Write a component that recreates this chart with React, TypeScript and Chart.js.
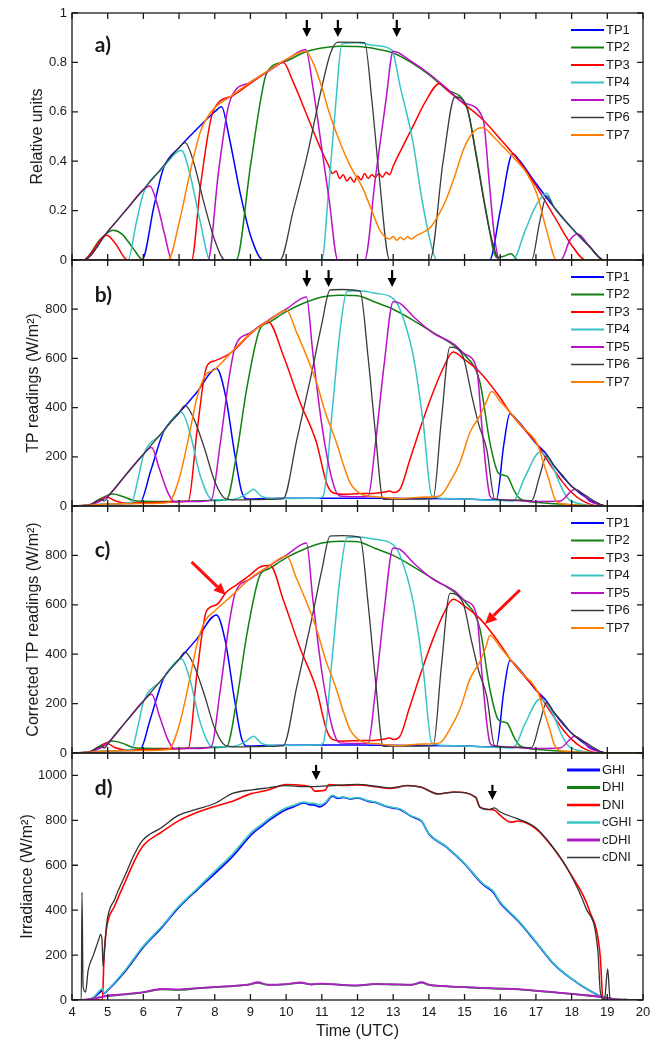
import React, { useEffect, useRef } from 'react';
import { Chart, registerables } from 'chart.js';

Chart.register(...registerables);

type Pt = [number, number];

// ---------- tick values ----------
const X_TICKS = [4, 5, 6, 7, 8, 9, 10, 11, 12, 13, 14, 15, 16, 17, 18, 19, 20];
const A_YTICKS = [0, 0.2, 0.4, 0.6, 0.8, 1];
const BC_YTICKS = [0, 200, 400, 600, 800];
const D_YTICKS = [0, 200, 400, 600, 800, 1000];

// ---------- labels / colours ----------
const TP_LABELS = ['TP1', 'TP2', 'TP3', 'TP4', 'TP5', 'TP6', 'TP7'];
const TP_COLORS = ['#0000ff', '#128012', '#ff0000', '#38c4c4', '#bb10c8', '#3a3a3a', '#ff8000'];
const TP_WIDTHS = [1.5, 1.5, 1.5, 1.5, 1.5, 1.3, 1.5];
const TP_LEGEND_WIDTHS = [2.2, 2.2, 2.2, 2.2, 2.2, 1.6, 2.2];
const D_LABELS = ['GHI', 'DHI', 'DNI', 'cGHI', 'cDHI', 'cDNI'];
const D_COLORS = ['#0a0aff', '#128012', '#ff0000', '#38c4c4', '#b01ec8', '#333333'];
const D_WIDTHS = [1.8, 1.8, 1.6, 1.6, 1.8, 1.3];
const D_LEGEND_WIDTHS = [3, 3, 2.6, 2.6, 3, 1.6];

// ---------- panel a (relative units) ----------
const A_TP1: Pt[] = [[4, 0], [5.96, 0], [6.3, 0.22], [6.56, 0.37], [7, 0.455], [7.5, 0.53], [8, 0.6], [8.19, 0.62], [8.4, 0.5], [8.7, 0.28], [9.0, 0.1], [9.36, 0], [15.7, 0], [16.0, 0.2], [16.35, 0.43], [16.5, 0.41], [17, 0.31], [17.5, 0.215], [18, 0.13], [18.5, 0.055], [18.9, 0], [20, 0]];
const A_TP2: Pt[] = [[4, 0], [4.31, 0], [4.8, 0.085], [5.15, 0.12], [5.4, 0.105], [5.7, 0.05], [6.0, 0], [8.6, 0], [9.0, 0.38], [9.3, 0.66], [9.45, 0.756], [10, 0.805], [10.5, 0.84], [11, 0.858], [11.5, 0.865], [12, 0.864], [12.5, 0.855], [13, 0.838], [13.5, 0.8], [14, 0.75], [14.5, 0.69], [15.06, 0.62], [15.3, 0.45], [15.6, 0.2], [15.9, 0.01], [16.1, 0.015], [16.3, 0.025], [16.5, 0], [20, 0]];
const A_TP3: Pt[] = [[4, 0], [4.31, 0], [4.97, 0.1], [5.2, 0.07], [5.56, 0], [7.35, 0], [7.6, 0.3], [7.95, 0.6], [8.5, 0.665], [9, 0.715], [9.5, 0.765], [9.92, 0.8], [10.2, 0.72], [10.6, 0.58], [11.0, 0.44], [11.2, 0.38], [11.3, 0.35], [11.4, 0.36], [11.5, 0.33], [11.6, 0.345], [11.7, 0.32], [11.8, 0.335], [11.9, 0.315], [12.0, 0.34], [12.1, 0.325], [12.2, 0.35], [12.3, 0.33], [12.4, 0.345], [12.5, 0.335], [12.6, 0.35], [12.7, 0.335], [12.8, 0.355], [12.9, 0.345], [13.0, 0.38], [13.2, 0.44], [13.55, 0.54], [13.9, 0.64], [14.3, 0.715], [14.5, 0.69], [15, 0.63], [15.5, 0.57], [16, 0.49], [16.5, 0.405], [17, 0.3], [17.5, 0.18], [18, 0.06], [18.4, 0], [20, 0]];
const A_TP4: Pt[] = [[4, 0], [5.57, 0], [5.8, 0.15], [6.0, 0.27], [6.5, 0.365], [7.07, 0.443], [7.3, 0.35], [7.6, 0.15], [7.87, 0], [11.0, 0], [11.2, 0.3], [11.4, 0.65], [11.56, 0.875], [12, 0.88], [12.5, 0.868], [12.96, 0.85], [13.2, 0.7], [13.55, 0.48], [13.8, 0.25], [14.05, 0.07], [14.22, 0], [16.35, 0], [16.7, 0.12], [17.0, 0.22], [17.3, 0.27], [17.5, 0.215], [18, 0.13], [18.5, 0.055], [18.9, 0], [20, 0]];
const A_TP5: Pt[] = [[4, 0], [4.31, 0], [5, 0.115], [5.5, 0.2], [6, 0.285], [6.18, 0.3], [6.4, 0.22], [6.6, 0.1], [6.8, 0], [7.81, 0], [8.1, 0.35], [8.35, 0.6], [8.5, 0.67], [9, 0.72], [9.5, 0.765], [10, 0.81], [10.55, 0.852], [10.75, 0.7], [11.0, 0.45], [11.2, 0.25], [11.45, 0], [12.2, 0], [12.5, 0.33], [12.8, 0.65], [13.0, 0.845], [13.5, 0.805], [14, 0.755], [14.5, 0.695], [15, 0.635], [15.52, 0.57], [15.7, 0.3], [15.85, 0.08], [15.99, 0], [17.7, 0], [17.95, 0.08], [18.17, 0.105], [18.5, 0.055], [18.9, 0], [20, 0]];
const A_TP6: Pt[] = [[4, 0], [4.31, 0], [5, 0.115], [5.5, 0.2], [6, 0.285], [6.5, 0.37], [7, 0.455], [7.17, 0.475], [7.4, 0.4], [7.7, 0.23], [8.0, 0.08], [8.29, 0], [9.83, 0], [10.2, 0.2], [10.6, 0.43], [11.0, 0.7], [11.25, 0.84], [11.45, 0.882], [12.2, 0.88], [12.4, 0.65], [12.6, 0.35], [12.9, 0], [14.03, 0], [14.4, 0.4], [14.73, 0.66], [15.06, 0.62], [15.35, 0.4], [15.7, 0.12], [15.99, 0], [16.88, 0], [17.1, 0.15], [17.3, 0.26], [17.5, 0.215], [18, 0.13], [18.5, 0.055], [18.9, 0], [20, 0]];
const A_TP7: Pt[] = [[4, 0], [6.69, 0], [7.0, 0.15], [7.3, 0.35], [7.6, 0.52], [7.9, 0.6], [8.5, 0.668], [9, 0.72], [9.5, 0.767], [10, 0.812], [10.55, 0.845], [10.75, 0.8], [11.0, 0.7], [11.2, 0.6], [11.5, 0.48], [11.8, 0.38], [12.15, 0.29], [12.4, 0.2], [12.63, 0.12], [12.9, 0.085], [13.0, 0.095], [13.1, 0.08], [13.2, 0.092], [13.3, 0.082], [13.4, 0.095], [13.5, 0.085], [13.66, 0.1], [14.03, 0.13], [14.3, 0.19], [14.5, 0.25], [14.75, 0.35], [14.95, 0.44], [15.15, 0.5], [15.34, 0.53], [15.52, 0.535], [15.8, 0.5], [16.07, 0.46], [16.4, 0.41], [16.75, 0.35], [17.02, 0.27], [17.3, 0.12], [17.58, 0], [20, 0]];

// ---------- panel b (TP readings, W/m2) ----------
const B_TP1: Pt[] = [[4, 0], [4.5, 2], [5, 8], [5.5, 10], [5.9, 12], [6.2, 140], [6.56, 300], [7, 378], [7.5, 462], [8.05, 559], [8.3, 450], [8.55, 220], [8.75, 60], [8.9, 28], [9.5, 30], [10, 31], [11, 32], [12, 32], [13, 31], [14, 30], [15, 28], [15.89, 25], [16.1, 250], [16.27, 375], [16.5, 345], [17, 255], [17.3, 210], [17.5, 165], [18, 80], [18.5, 25], [18.8, 5], [19, 0], [20, 0]];
const B_TP2: Pt[] = [[4, 0], [4.5, 5], [4.8, 30], [5.15, 49], [5.4, 40], [5.8, 20], [6.5, 18], [7, 19], [8, 22], [8.33, 25], [8.6, 200], [8.9, 480], [9.27, 721], [9.5, 745], [10, 790], [10.5, 825], [11, 850], [11.5, 857], [12, 855], [12.5, 828], [13, 800], [13.5, 760], [14.1, 707], [14.68, 655], [15.0, 615], [15.43, 503], [15.71, 258], [15.94, 136], [16.1, 125], [16.2, 120], [16.4, 60], [16.55, 30], [17, 15], [18, 5], [18.8, 0], [20, 0]];
const B_TP3: Pt[] = [[4, 0], [4.5, 5], [4.8, 25], [4.97, 37], [5.2, 22], [5.5, 12], [6, 13], [7, 17], [7.26, 20], [7.5, 300], [7.77, 565], [8, 590], [8.5, 628], [9, 700], [9.5, 748], [9.92, 612], [10.39, 422], [10.85, 258], [11.13, 95], [11.3, 55], [11.6, 48], [12, 50], [12.5, 52], [12.8, 58], [12.9, 61], [13.0, 55], [13.19, 68], [13.45, 180], [13.75, 313], [14.12, 463], [14.4, 560], [14.68, 626], [15, 595], [15.43, 544], [16, 440], [16.27, 381], [16.5, 340], [17.06, 245], [17.3, 190], [17.76, 95], [18.0, 55], [18.32, 20], [18.8, 0], [20, 0]];
const B_TP4: Pt[] = [[4, 0], [5.0, 8], [5.67, 15], [5.85, 110], [6.0, 205], [6.5, 292], [7.07, 381], [7.3, 300], [7.6, 120], [7.94, 25], [8.5, 26], [8.9, 50], [9.08, 68], [9.3, 40], [9.6, 30], [10, 30], [10.9, 32], [11.04, 41], [11.3, 400], [11.5, 700], [11.7, 871], [12, 875], [12.5, 865], [13, 843], [13.19, 800], [13.56, 612], [13.84, 340], [14.08, 41], [14.5, 30], [15, 28], [16, 22], [16.36, 20], [16.7, 120], [17.11, 218], [17.3, 200], [17.5, 150], [17.7, 80], [17.9, 30], [18.2, 10], [18.8, 0], [20, 0]];
const B_TP5: Pt[] = [[4, 0], [4.5, 5], [5, 40], [5.5, 125], [6, 210], [6.23, 238], [6.45, 150], [6.7, 50], [6.86, 18], [7.5, 18], [7.9, 25], [8.15, 250], [8.4, 520], [8.57, 646], [9, 705], [9.5, 755], [10, 800], [10.57, 850], [10.75, 620], [11.0, 330], [11.3, 100], [11.5, 41], [12.0, 38], [12.3, 40], [12.5, 250], [12.75, 580], [13.0, 830], [13.19, 824], [13.6, 765], [14.1, 705], [14.73, 655], [15.0, 618], [15.34, 558], [15.5, 300], [15.71, 41], [15.8, 30], [16.5, 22], [17.0, 18], [17.67, 20], [18.09, 68], [18.3, 50], [18.5, 20], [18.8, 5], [19, 0], [20, 0]];
const B_TP6: Pt[] = [[4, 0], [4.5, 5], [4.7, 22], [4.83, 27], [4.9, 20], [5.06, 48], [5.5, 125], [6, 210], [6.5, 295], [7, 380], [7.17, 408], [7.4, 360], [7.7, 240], [8.0, 100], [8.3, 30], [8.6, 25], [9.5, 27], [9.92, 30], [10.3, 270], [10.7, 530], [11.0, 740], [11.23, 878], [11.6, 880], [12.07, 873], [12.3, 600], [12.5, 300], [12.72, 27], [13.5, 28], [14.12, 30], [14.35, 350], [14.59, 646], [14.95, 610], [15.2, 450], [15.4, 330], [15.62, 231], [15.85, 27], [16.5, 24], [16.88, 22], [17.1, 120], [17.3, 204], [17.5, 165], [17.76, 122], [18.0, 80], [18.41, 41], [18.79, 8], [19, 0], [20, 0]];
const B_TP7: Pt[] = [[4, 0], [4.5, 3], [5, 8], [6, 10], [6.7, 14], [7.0, 110], [7.3, 300], [7.5, 440], [7.73, 530], [8, 555], [8.5, 630], [9, 702], [9.5, 752], [10.01, 796], [10.29, 707], [10.6, 600], [10.85, 503], [11.1, 380], [11.41, 258], [11.6, 170], [11.79, 95], [12.15, 45], [12.5, 38], [13.19, 30], [13.8, 36], [14.3, 41], [14.6, 100], [14.87, 177], [15.15, 299], [15.43, 367], [15.6, 420], [15.76, 465], [16, 425], [16.27, 381], [16.6, 325], [17.06, 245], [17.2, 180], [17.39, 95], [17.5, 40], [17.62, 13], [18, 5], [18.8, 0], [20, 0]];

// ---------- panel c (corrected TP readings, W/m2) ----------
const C_TP1: Pt[] = B_TP1;
const C_TP2: Pt[] = B_TP2;
const C_TP3: Pt[] = [[4, 0], [4.5, 5], [4.8, 25], [4.97, 40], [5.2, 22], [5.5, 12], [6, 13], [7, 17], [7.26, 20], [7.5, 320], [7.77, 575], [8.05, 600], [8.33, 652], [8.6, 680], [9, 722], [9.27, 753], [9.55, 760], [9.92, 620], [10.39, 425], [10.85, 258], [11.13, 95], [11.3, 55], [11.6, 48], [12, 50], [12.5, 52], [12.8, 58], [12.9, 61], [13.0, 55], [13.19, 68], [13.45, 180], [13.75, 313], [14.12, 463], [14.4, 560], [14.68, 622], [15, 595], [15.43, 544], [16, 440], [16.27, 381], [16.5, 340], [17.06, 245], [17.3, 190], [17.76, 95], [18.0, 55], [18.32, 20], [18.8, 0], [20, 0]];
const C_TP4: Pt[] = B_TP4;
const C_TP5: Pt[] = B_TP5;
const C_TP6: Pt[] = B_TP6;
const C_TP7: Pt[] = [[4, 0], [4.5, 3], [5, 8], [6, 10], [6.7, 14], [7.0, 110], [7.3, 300], [7.5, 440], [7.73, 535], [8, 575], [8.5, 640], [9, 708], [9.5, 755], [10.01, 798], [10.29, 707], [10.6, 600], [10.85, 503], [11.1, 380], [11.41, 258], [11.6, 170], [11.79, 95], [12.15, 45], [12.5, 38], [13.19, 30], [13.8, 36], [14.3, 41], [14.6, 100], [14.87, 177], [15.15, 299], [15.43, 370], [15.6, 430], [15.71, 477], [16, 428], [16.27, 381], [16.6, 325], [17.06, 245], [17.2, 180], [17.39, 95], [17.5, 40], [17.62, 13], [18, 5], [18.8, 0], [20, 0]];

// ---------- panel d (irradiance, W/m2) ----------
const D_GHI: Pt[] = [[4, 0], [4.4, 0], [4.6, 10], [4.79, 35], [4.85, 42], [4.9, 28], [4.97, 38], [5.5, 130], [5.97, 230], [6.5, 320], [6.98, 410], [7.5, 490], [7.98, 560], [8.5, 640], [9.05, 740], [9.3, 772], [9.52, 800], [9.99, 848], [10.2, 860], [10.5, 878], [10.65, 870], [10.8, 868], [10.94, 860], [11.1, 875], [11.3, 908], [11.45, 898], [11.6, 902], [11.8, 895], [12, 900], [12.3, 885], [12.5, 880], [12.8, 862], [13, 855], [13.2, 848], [13.5, 818], [13.8, 795], [14, 740], [14.5, 680], [15, 606], [15.5, 517], [15.8, 480], [16, 432], [16.5, 352], [17, 257], [17.5, 160], [18, 94], [18.5, 42], [18.9, 10], [19.1, 0], [20, 0]];
const D_DHI: Pt[] = [[4, 0], [4.4, 2], [5, 18], [5.5, 25], [6, 34], [6.5, 47], [7, 45], [7.5, 52], [8, 57], [8.5, 62], [9, 70], [9.2, 76], [9.5, 67], [10, 70], [10.4, 76], [10.7, 69], [11, 72], [11.5, 67], [12, 64], [12.5, 71], [13, 69], [13.5, 67], [13.8, 77], [14, 67], [14.5, 61], [15, 57], [15.5, 53], [16, 50], [16.5, 47], [17, 41], [17.5, 34], [18, 27], [18.5, 19], [18.9, 12], [19.2, 4], [19.6, 1], [20, 0]];
const D_DNI: Pt[] = [[4, 0], [4.85, 0], [4.9, 200], [4.97, 320], [5.2, 420], [5.5, 530], [5.75, 620], [6, 688], [6.5, 747], [7, 799], [7.5, 835], [8, 862], [8.5, 885], [9, 918], [9.5, 935], [10, 960], [10.5, 955], [10.7, 948], [10.8, 930], [11.0, 932], [11.1, 935], [11.2, 960], [11.6, 955], [12, 958], [12.5, 950], [12.95, 942], [13.4, 955], [13.78, 948], [14.25, 918], [14.72, 926], [15.31, 903], [15.43, 859], [15.84, 845], [16.0, 822], [16.3, 792], [16.5, 797], [17, 762], [17.5, 673], [18, 554], [18.5, 398], [18.8, 198], [18.88, 0], [20, 0]];
const D_CGHI: Pt[] = [[4, 0], [4.4, 0], [4.6, 12], [4.79, 45], [4.85, 50], [4.9, 30], [4.97, 40], [5.5, 135], [5.97, 235], [6.5, 325], [6.98, 415], [7.5, 495], [7.98, 570], [8.5, 650], [9.05, 750], [9.3, 780], [9.52, 808], [9.99, 855], [10.2, 866], [10.5, 882], [10.65, 876], [10.8, 875], [10.94, 868], [11.1, 880], [11.3, 912], [11.45, 902], [11.6, 904], [11.8, 897], [12, 902], [12.3, 888], [12.5, 882], [12.8, 864], [13, 857], [13.2, 850], [13.5, 820], [13.8, 797], [14, 742], [14.5, 682], [15, 608], [15.5, 520], [15.8, 485], [16, 436], [16.5, 355], [17, 260], [17.5, 162], [18, 95], [18.5, 43], [18.9, 10], [19.1, 0], [20, 0]];
const D_CDHI: Pt[] = [[4, 0], [4.4, 2], [5, 19], [5.5, 26], [6, 35], [6.5, 49], [7, 47], [7.5, 53], [8, 58], [8.5, 63], [9, 71], [9.2, 79], [9.5, 68], [10, 71], [10.4, 78], [10.7, 70], [11, 73], [11.5, 68], [12, 65], [12.5, 72], [13, 70], [13.5, 68], [13.8, 79], [14, 68], [14.5, 62], [15, 57], [15.5, 54], [16, 51], [16.5, 48], [17, 42], [17.5, 35], [18, 27], [18.5, 20], [18.9, 12], [19.2, 4], [19.6, 1], [20, 0]];
const D_CDNI: Pt[] = [[4, 0], [4.26, 0], [4.28, 480], [4.31, 60], [4.38, 35], [4.45, 130], [4.6, 200], [4.75, 270], [4.8, 292], [4.84, 270], [4.87, 150], [4.92, 240], [4.97, 339], [5.2, 450], [5.5, 560], [5.75, 650], [5.97, 710], [6.2, 740], [6.45, 762], [6.98, 822], [7.5, 850], [7.98, 874], [8.52, 921], [9.05, 936], [9.5, 945], [9.99, 955], [10.5, 950], [10.94, 951], [11.3, 955], [12.0, 960], [12.5, 952], [12.95, 945], [13.4, 955], [13.78, 948], [14.25, 918], [14.72, 926], [15.31, 903], [15.43, 859], [15.7, 848], [15.84, 856], [16.0, 837], [16.49, 807], [16.97, 770], [17.44, 688], [17.91, 577], [18.39, 413], [18.74, 212], [18.8, 42], [18.92, 0], [19.01, 138], [19.08, 0], [20, 0]];

// ---------- annotations (data coordinates) ----------
const A_ARROWS: [number, number, number][] = [[10.58, 0.972, 0.903], [11.45, 0.972, 0.903], [13.1, 0.972, 0.903]];
const B_ARROWS: [number, number, number][] = [[10.58, 959, 890], [11.19, 959, 890], [12.97, 959, 890]];
const D_ARROWS: [number, number, number][] = [[10.84, 1047, 980], [15.78, 958, 891]];
const C_RED_ARROWS: [number, number, number, number][] = [[7.35, 774, 8.31, 640], [16.55, 660, 15.57, 522]];

const FONT = '"Liberation Sans", Arial, sans-serif';
const INK = '#1a1a1a';

interface PanelCfg {
  top: number; height: number; padTop: number; padBottom: number;
  yMax: number; yTicks: number[]; yTitle: string; titlePad: number;
  series: Pt[][]; labels: string[]; colors: string[]; widths: number[]; legendWidths: number[];
  showX: boolean;
  label: string; labelPos: [number, number];
  arrows: [number, number, number][];
  redArrows: [number, number, number, number][];
  legendRight: number;
}

function drawArrow(ctx: CanvasRenderingContext2D, x1: number, y1: number, x2: number, y2: number, color: string, shaftW: number, headL: number, headW: number) {
  const ang = Math.atan2(y2 - y1, x2 - x1);
  const bx = x2 - headL * Math.cos(ang);
  const by = y2 - headL * Math.sin(ang);
  ctx.strokeStyle = color;
  ctx.lineWidth = shaftW;
  ctx.beginPath();
  ctx.moveTo(x1, y1);
  ctx.lineTo(bx, by);
  ctx.stroke();
  ctx.fillStyle = color;
  ctx.beginPath();
  ctx.moveTo(x2, y2);
  ctx.lineTo(bx + (headW / 2) * Math.sin(ang), by - (headW / 2) * Math.cos(ang));
  ctx.lineTo(bx - (headW / 2) * Math.sin(ang), by + (headW / 2) * Math.cos(ang));
  ctx.closePath();
  ctx.fill();
}

function drawDeco(chart: any, cfg: PanelCfg) {
  const { ctx, chartArea } = chart;
  const { left, right, top, bottom } = chartArea;
  const xs = chart.scales.x;
  const ys = chart.scales.y;
  ctx.save();
  // frame + inward ticks
  ctx.strokeStyle = INK;
  ctx.lineWidth = 1.3;
  ctx.strokeRect(left, top, right - left, bottom - top);
  ctx.beginPath();
  for (const v of X_TICKS) {
    const px = xs.getPixelForValue(v);
    ctx.moveTo(px, bottom); ctx.lineTo(px, bottom - 6);
    ctx.moveTo(px, top); ctx.lineTo(px, top + 6);
  }
  for (const v of cfg.yTicks) {
    const py = ys.getPixelForValue(v);
    ctx.moveTo(left, py); ctx.lineTo(left + 6, py);
    ctx.moveTo(right, py); ctx.lineTo(right - 6, py);
  }
  ctx.stroke();
  // legend
  ctx.font = `13px ${FONT}`;
  ctx.textBaseline = 'middle';
  ctx.textAlign = 'left';
  const lx = right - cfg.legendRight;
  cfg.labels.forEach((lab, i) => {
    const y = top + 17 + i * 17.5;
    ctx.strokeStyle = cfg.colors[i];
    ctx.lineWidth = cfg.legendWidths[i];
    ctx.beginPath();
    ctx.moveTo(lx, y);
    ctx.lineTo(lx + 33, y);
    ctx.stroke();
    ctx.fillStyle = INK;
    ctx.fillText(lab, lx + 35, y);
  });
  // panel label
  ctx.font = `bold 21px Lato, "Open Sans", sans-serif`;
  ctx.textBaseline = 'alphabetic';
  ctx.fillStyle = INK;
  ctx.fillText(cfg.label, xs.getPixelForValue(cfg.labelPos[0]), ys.getPixelForValue(cfg.labelPos[1]));
  // arrows
  for (const [x, yt, yb] of cfg.arrows) {
    const px = xs.getPixelForValue(x);
    drawArrow(ctx, px, ys.getPixelForValue(yt), px, ys.getPixelForValue(yb), '#000', 2.2, 9, 9);
  }
  for (const [x1, y1, x2, y2] of cfg.redArrows) {
    drawArrow(ctx, xs.getPixelForValue(x1), ys.getPixelForValue(y1), xs.getPixelForValue(x2), ys.getPixelForValue(y2), '#ff1010', 3, 12, 11);
  }
  ctx.restore();
}

function Panel({ cfg }: { cfg: PanelCfg }) {
  const ref = useRef<HTMLCanvasElement>(null);
  useEffect(() => {
    const deco = { id: 'deco', afterDatasetsDraw(chart: any) { drawDeco(chart, cfg); } };
    const n = cfg.series.length;
    const xScale: any = {
      type: 'linear', min: 4, max: 20, display: cfg.showX,
      afterBuildTicks: (s: any) => { s.ticks = X_TICKS.map((v) => ({ value: v })); },
      grid: { display: false, drawTicks: false },
      border: { display: false },
      ticks: { callback: (v: any) => String(v), font: { family: FONT, size: 13 }, color: INK, padding: 5, maxRotation: 0, autoSkip: false },
      title: { display: cfg.showX, text: 'Time (UTC)', font: { family: FONT, size: 16 }, color: INK, padding: { top: 0, bottom: 0 } },
    };
    if (cfg.showX) xScale.afterFit = (s: any) => { s.height = 41; };
    const chart = new Chart(ref.current as HTMLCanvasElement, {
      type: 'line',
      data: {
        datasets: cfg.series.map((s, i) => ({
          label: cfg.labels[i],
          data: s.map(([x, y]) => ({ x, y })),
          borderColor: cfg.colors[i],
          backgroundColor: cfg.colors[i],
          borderWidth: cfg.widths[i],
          pointRadius: 0,
          cubicInterpolationMode: 'monotone',
          fill: false,
          order: n - i,
        })),
      },
      options: {
        animation: false,
        responsive: true,
        maintainAspectRatio: false,
        events: [],
        layout: { padding: { left: 0, right: 16, top: cfg.padTop, bottom: cfg.padBottom } },
        plugins: { legend: { display: false }, tooltip: { enabled: false } },
        scales: {
          x: xScale,
          y: {
            type: 'linear', min: 0, max: cfg.yMax,
            afterBuildTicks: (s: any) => { s.ticks = cfg.yTicks.map((v) => ({ value: v })); },
            afterFit: (s: any) => { s.width = 72; },
            grid: { display: false, drawTicks: false },
            border: { display: false },
            ticks: { callback: (v: any) => String(Math.round(Number(v) * 1000) / 1000), font: { family: FONT, size: 13 }, color: INK, padding: 5 },
            title: { display: true, text: cfg.yTitle, font: { family: FONT, size: 16 }, color: INK, padding: { top: cfg.titlePad, bottom: 0 } },
          },
        },
      } as any,
      plugins: [deco],
    });
    return () => chart.destroy();
  }, []);
  return (
    <div style={{ position: 'absolute', left: 0, top: cfg.top, width: 659, height: cfg.height }}>
      <canvas ref={ref} />
    </div>
  );
}

const PANELS: PanelCfg[] = [
  {
    top: 0, height: 275, padTop: 13, padBottom: 15, yMax: 1, yTicks: A_YTICKS, yTitle: 'Relative units', titlePad: 27.5,
    series: [A_TP1, A_TP2, A_TP3, A_TP4, A_TP5, A_TP6, A_TP7], labels: TP_LABELS, colors: TP_COLORS, widths: TP_WIDTHS, legendWidths: TP_LEGEND_WIDTHS,
    showX: false, label: 'a)', labelPos: [4.64, 0.842], arrows: A_ARROWS, redArrows: [], legendRight: 72,
  },
  {
    top: 245, height: 275, padTop: 15, padBottom: 14, yMax: 1000, yTicks: BC_YTICKS, yTitle: 'TP readings (W/m²)', titlePad: 24,
    series: [B_TP1, B_TP2, B_TP3, B_TP4, B_TP5, B_TP6, B_TP7], labels: TP_LABELS, colors: TP_COLORS, widths: TP_WIDTHS, legendWidths: TP_LEGEND_WIDTHS,
    showX: false, label: 'b)', labelPos: [4.64, 830], arrows: B_ARROWS, redArrows: [], legendRight: 72,
  },
  {
    top: 492, height: 275, padTop: 14, padBottom: 14, yMax: 1000, yTicks: BC_YTICKS, yTitle: 'Corrected TP readings (W/m²)', titlePad: 24,
    series: [C_TP1, C_TP2, C_TP3, C_TP4, C_TP5, C_TP6, C_TP7], labels: TP_LABELS, colors: TP_COLORS, widths: TP_WIDTHS, legendWidths: TP_LEGEND_WIDTHS,
    showX: false, label: 'c)', labelPos: [4.64, 793], arrows: [], redArrows: C_RED_ARROWS, legendRight: 72,
  },
  {
    top: 740, height: 301, padTop: 13, padBottom: 0, yMax: 1100, yTicks: D_YTICKS, yTitle: 'Irradiance (W/m²)', titlePad: 18,
    series: [D_GHI, D_DHI, D_DNI, D_CGHI, D_CDHI, D_CDNI], labels: D_LABELS, colors: D_COLORS, widths: D_WIDTHS, legendWidths: D_LEGEND_WIDTHS,
    showX: true, label: 'd)', labelPos: [4.64, 913], arrows: D_ARROWS, redArrows: [], legendRight: 76,
  },
];

export default function App() {
  return (
    <div style={{ position: 'absolute', left: 0, top: 0, width: 659, height: 1041, background: '#fff', overflow: 'hidden' }}>
      {PANELS.map((p, i) => (
        <Panel key={i} cfg={p} />
      ))}
    </div>
  );
}
